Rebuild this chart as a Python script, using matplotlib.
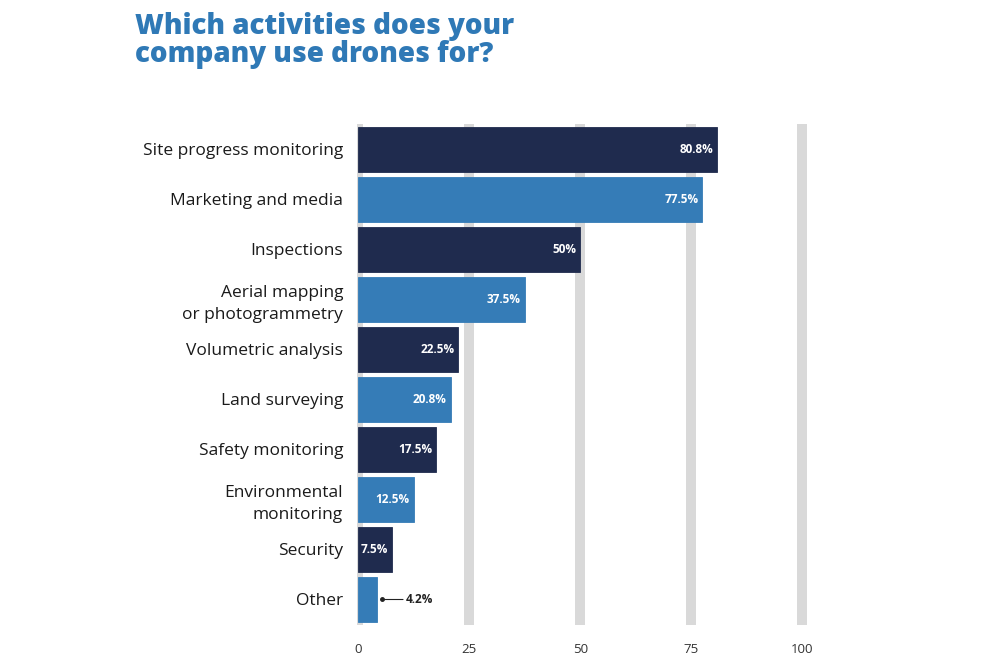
import numpy as np
import matplotlib.pyplot as plt

plt.rcParams['font.family'] = ['Open Sans', 'DejaVu Sans']

categories = ['Site progress monitoring', 'Marketing and media', 'Inspections',
              'Aerial mapping\nor photogrammetry', 'Volumetric analysis',
              'Land surveying', 'Safety monitoring', 'Environmental\nmonitoring',
              'Security', 'Other']
values = [80.8, 77.5, 50, 37.5, 22.5, 20.8, 17.5, 12.5, 7.5, 4.2]
value_labels = ['80.8%', '77.5%', '50%', '37.5%', '22.5%', '20.8%', '17.5%',
                '12.5%', '7.5%', '4.2%']
ticks = [0, 25, 50, 75, 100]

navy = '#1f2b4e'
blue = '#357cb7'
colors = [navy if i % 2 == 0 else blue for i in range(len(values))]

fig = plt.figure(figsize=(10, 6.66), dpi=100)
ax = fig.add_axes([0.357, 0.0623, 0.454, 0.751])

# wide light grey grid bars
for t in ticks:
    ax.axvline(t, color='#d9d9d9', lw=7.2, zorder=0)

y = np.arange(len(values))
ax.barh(y, values, height=0.9, color=colors, edgecolor=colors, linewidth=0.6, zorder=2)

for i, (v, lab) in enumerate(zip(values, value_labels)):
    if v > 6:
        ax.text(v - 0.9, i, lab, ha='right', va='center', color='white',
                fontsize=8.5, fontweight='bold', zorder=3)
    else:
        # small value: label outside with a leader line
        ax.annotate(lab, xy=(v + 1.2, i), xytext=(v + 6.5, i),
                    ha='left', va='center', fontsize=8.5, fontweight='bold',
                    color='#222222',
                    arrowprops=dict(arrowstyle='-', color='#222222', lw=0.8,
                                    shrinkA=0, shrinkB=0))
        ax.plot(v + 1.2, i, 'o', color='#222222', ms=2.5, zorder=3)

ax.set_xlim(-0.3, 102)
ax.set_ylim(len(values) - 0.5, -0.5)
ax.set_yticks(y)
ax.set_yticklabels(categories, fontsize=12.5, color='#1a1a1a', ha='right',
                   multialignment='right', linespacing=1.45)
ax.set_xticks(ticks)
ax.set_xticklabels([str(t) for t in ticks], fontsize=9.5, color='#333333')
ax.tick_params(axis='both', length=0)
ax.tick_params(axis='y', pad=10)
ax.tick_params(axis='x', pad=13)
for s in ax.spines.values():
    s.set_visible(False)

fig.text(0.135, 0.982, 'Which activities does your\ncompany use drones for?',
         ha='left', va='top', fontsize=20, fontweight='heavy', color='#2f79b6',
         linespacing=0.95)

fig.savefig('out.png', dpi=100, facecolor='white')
